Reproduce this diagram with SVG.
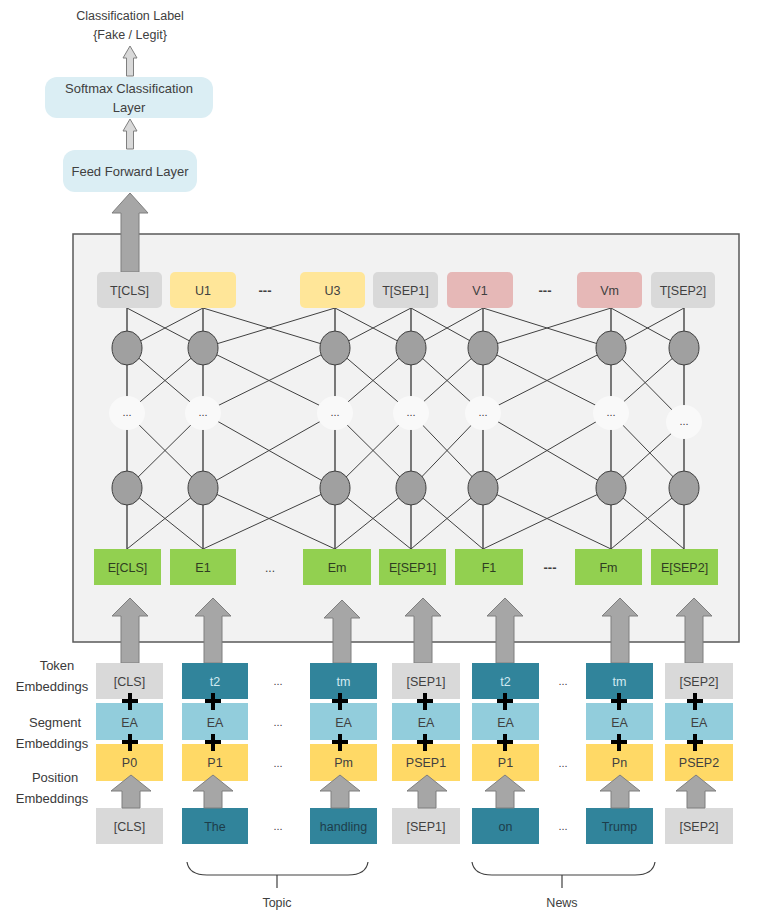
<svg xmlns="http://www.w3.org/2000/svg" width="762" height="911" viewBox="0 0 762 911">
<style>
text{font-family:"Liberation Sans",Arial,sans-serif;text-anchor:middle;fill:#404040}
.t13{font-size:13px}
.t12{font-size:12.5px}
.lbl{font-size:13px;fill:#3a3a3a}
.layer{fill:#dbeef4}
.gray{fill:#d9d9d9}
.yel{fill:#ffe699}
.pink{fill:#e6b8b7}
.green{fill:#92d050}
.teal{fill:#31849b}
.seg{fill:#92cddc}
.pos{fill:#ffd966}
.big{fill:#a6a6a6;stroke:#7f7f7f;stroke-width:1}
.small{fill:#d9d9d9;stroke:#7f7f7f;stroke-width:1}
.node{fill:#a0a0a0;stroke:#404040;stroke-width:1}
.blob{fill:#f9f9f9}
.mesh{stroke:#404040;stroke-width:1;fill:none}
.vert{stroke:#595959;stroke-width:1.6;fill:none}
.plus{stroke:#000;stroke-width:4;fill:none}
.brace{stroke:#404040;stroke-width:1.2;fill:none}
.dots{font-size:11px;fill:#404040}
.light{fill:#d2eaf1}
.dark{fill:#1d3d4a}
.egt{fill:#2f3d22}
</style>

<g id="classification-label">
<text class="t12" x="130" y="20">Classification Label</text>
<text class="t12" x="130" y="39">{Fake / Legit}</text>
</g>
<g id="softmax">
<rect class="layer" x="45" y="77" width="168" height="41" rx="12"/>
<text class="t13" x="129" y="93">Softmax Classification</text>
<text class="t13" x="129" y="112">Layer</text>
</g>
<g id="feedforward">
<rect class="layer" x="63" y="150" width="134" height="42" rx="12"/>
<text class="t13" x="130" y="176">Feed Forward Layer</text>
</g>

<g id="transformer">
<rect x="73" y="234" width="666" height="408" fill="#f2f2f2" stroke="#595959" stroke-width="1.5"/>
</g>

<g id="connectors">
<path class="small" d="M130,46 L137,58 L133.5,58 L133.5,76 L126.5,76 L126.5,58 L123,58 Z"/>
<path class="small" d="M130,119 L137,131 L133.5,131 L133.5,149 L126.5,149 L126.5,131 L123,131 Z"/>
<path class="big" d="M130,193 L148,213 L139,213 L139,272 L121,272 L121,213 L112,213 Z"/>
<path class="vert" d="M127,308V549 M203,308V549 M335,308V549 M411,308V549 M483,308V549 M611,308V549 M684,308V549"/>
<path class="mesh" d="M127,308 L203,348 M203,308 L127,348 M203,308 L335,348 M335,308 L203,348 M335,308 L411,348 M411,308 L335,348 M411,308 L483,348 M483,308 L411,348 M483,308 L611,348 M611,308 L483,348 M611,308 L684,348 M684,308 L611,348"/>
<path class="mesh" d="M127,348 L203,413 M203,348 L127,413 M203,348 L335,413 M335,348 L203,413 M335,348 L411,413 M411,348 L335,413 M411,348 L483,413 M483,348 L411,413 M483,348 L611,413 M611,348 L483,413 M611,348 L684,422 M684,348 L611,413"/>
<path class="mesh" d="M127,413 L203,488 M203,413 L127,488 M203,413 L335,488 M335,413 L203,488 M335,413 L411,488 M411,413 L335,488 M411,413 L483,488 M483,413 L411,488 M483,413 L611,488 M611,413 L483,488 M611,413 L684,488 M684,422 L611,488"/>
<path class="mesh" d="M127,488 L203,549 M203,488 L127,549 M203,488 L335,549 M335,488 L203,549 M335,488 L411,549 M411,488 L335,549 M411,488 L483,549 M483,488 L411,549 M483,488 L611,549 M611,488 L483,549 M611,488 L684,549 M684,488 L611,549"/>
<path class="big" d="M130,598 L148,616 L139,616 L139,663 L121,663 L121,616 L112,616 Z"/>
<path class="big" d="M213,598 L231,616 L222,616 L222,663 L204,663 L204,616 L195,616 Z"/>
<path class="big" d="M342,600 L360,618 L351,618 L351,663 L333,663 L333,618 L324,618 Z"/>
<path class="big" d="M423,598 L441,616 L432,616 L432,663 L414,663 L414,616 L405,616 Z"/>
<path class="big" d="M505,598 L523,616 L514,616 L514,663 L496,663 L496,616 L487,616 Z"/>
<path class="big" d="M620,598 L638,616 L629,616 L629,663 L611,663 L611,616 L602,616 Z"/>
<path class="big" d="M694,598 L712,616 L703,616 L703,663 L685,663 L685,616 L676,616 Z"/>
</g>

<g id="dots">
<ellipse class="blob" cx="127" cy="413" rx="18" ry="17"/>
<ellipse class="blob" cx="203" cy="413" rx="18" ry="17"/>
<ellipse class="blob" cx="335" cy="413" rx="18" ry="17"/>
<ellipse class="blob" cx="411" cy="413" rx="18" ry="17"/>
<ellipse class="blob" cx="483" cy="413" rx="18" ry="17"/>
<ellipse class="blob" cx="611" cy="413" rx="18" ry="17"/>
<ellipse class="blob" cx="684" cy="422" rx="18" ry="17"/>
<text class="dots" x="127" y="416">...</text>
<text class="dots" x="203" y="416">...</text>
<text class="dots" x="335" y="416">...</text>
<text class="dots" x="411" y="416">...</text>
<text class="dots" x="483" y="416">...</text>
<text class="dots" x="611" y="416">...</text>
<text class="dots" x="684" y="425">...</text>
</g>

<g id="neurons-top">
<ellipse class="node" cx="127" cy="348" rx="15" ry="17"/>
<ellipse class="node" cx="203" cy="348" rx="15" ry="17"/>
<ellipse class="node" cx="335" cy="348" rx="15" ry="17"/>
<ellipse class="node" cx="411" cy="348" rx="15" ry="17"/>
<ellipse class="node" cx="483" cy="348" rx="15" ry="17"/>
<ellipse class="node" cx="611" cy="348" rx="15" ry="17"/>
<ellipse class="node" cx="684" cy="348" rx="15" ry="17"/>
</g>
<g id="neurons-bottom">
<ellipse class="node" cx="127" cy="488" rx="15" ry="17"/>
<ellipse class="node" cx="203" cy="488" rx="15" ry="17"/>
<ellipse class="node" cx="335" cy="488" rx="15" ry="17"/>
<ellipse class="node" cx="411" cy="488" rx="15" ry="17"/>
<ellipse class="node" cx="483" cy="488" rx="15" ry="17"/>
<ellipse class="node" cx="611" cy="488" rx="15" ry="17"/>
<ellipse class="node" cx="684" cy="488" rx="15" ry="17"/>
</g>

<g id="t-cls"><rect class="gray" x="97" y="272" width="65" height="36" rx="5"/><text class="t12" x="129.5" y="295">T[CLS]</text></g>
<g id="u1"><rect class="yel" x="170" y="272" width="66" height="36" rx="5"/><text class="t12" x="203" y="295">U1</text></g>
<text x="265" y="295" font-size="13" font-weight="bold" fill="#222">---</text>
<g id="u3"><rect class="yel" x="300" y="272" width="65" height="36" rx="5"/><text class="t12" x="332.5" y="295">U3</text></g>
<g id="t-sep1"><rect class="gray" x="373" y="272" width="65" height="36" rx="5"/><text class="t12" x="405.5" y="295">T[SEP1]</text></g>
<g id="v1"><rect class="pink" x="447" y="272" width="66" height="36" rx="5"/><text class="t12" x="480" y="295">V1</text></g>
<text x="545" y="295" font-size="13" font-weight="bold" fill="#222">---</text>
<g id="vm"><rect class="pink" x="577" y="272" width="65" height="36" rx="5"/><text class="t12" x="609.5" y="295">Vm</text></g>
<g id="t-sep2"><rect class="gray" x="651" y="272" width="64" height="36" rx="5"/><text class="t12" x="683" y="295">T[SEP2]</text></g>

<g id="e-cls"><rect class="green" x="94" y="549" width="67" height="36"/><text class="t12 egt" x="127.5" y="572">E[CLS]</text></g>
<g id="e1"><rect class="green" x="170" y="549" width="66" height="36"/><text class="t12 egt" x="203" y="572">E1</text></g>
<text x="270" y="572" font-size="12">...</text>
<g id="em"><rect class="green" x="303" y="549" width="68" height="36"/><text class="t12 egt" x="337" y="572">Em</text></g>
<g id="e-sep1"><rect class="green" x="379" y="549" width="67" height="36"/><text class="t12 egt" x="412.5" y="572">E[SEP1]</text></g>
<g id="f1"><rect class="green" x="455" y="549" width="68" height="36"/><text class="t12 egt" x="489" y="572">F1</text></g>
<text x="550" y="572" font-size="13" font-weight="bold" fill="#222">---</text>
<g id="fm"><rect class="green" x="575" y="549" width="67" height="36"/><text class="t12 egt" x="608.5" y="572">Fm</text></g>
<g id="e-sep2"><rect class="green" x="651" y="549" width="67" height="36"/><text class="t12 egt" x="684.5" y="572">E[SEP2]</text></g>

<g id="row-labels">
<text class="lbl" x="57" y="670">Token</text>
<text class="lbl" x="52" y="691">Embeddings</text>
<text class="lbl" x="55" y="727">Segment</text>
<text class="lbl" x="52" y="748">Embeddings</text>
<text class="lbl" x="55" y="782">Position</text>
<text class="lbl" x="52" y="803">Embeddings</text>
</g>

<g id="col-cls">
<rect class="gray" x="96" y="663" width="67" height="36"/>
<rect class="seg" x="96" y="703" width="67" height="37"/>
<rect class="pos" x="96" y="744" width="67" height="37"/>
<rect class="gray" x="96" y="808" width="67" height="36"/>
<text class="t12" x="129.5" y="686">[CLS]</text>
<text class="t12" x="129.5" y="727">EA</text>
<text class="t12" x="129.5" y="767">P0</text>
<text class="t12" x="129.5" y="831">[CLS]</text>
</g>
<g id="col-t2a">
<rect class="teal" x="182" y="663" width="66" height="36"/>
<rect class="seg" x="182" y="703" width="66" height="37"/>
<rect class="pos" x="182" y="744" width="66" height="37"/>
<rect class="teal" x="182" y="808" width="66" height="36"/>
<text class="t12 light" x="215" y="686">t2</text>
<text class="t12" x="215" y="727">EA</text>
<text class="t12" x="215" y="767">P1</text>
<text class="t12 dark" x="215" y="831">The</text>
</g>
<g id="col-tma">
<rect class="teal" x="310" y="663" width="67" height="36"/>
<rect class="seg" x="310" y="703" width="67" height="37"/>
<rect class="pos" x="310" y="744" width="67" height="37"/>
<rect class="teal" x="310" y="808" width="67" height="36"/>
<text class="t12 light" x="343.5" y="686">tm</text>
<text class="t12" x="343.5" y="727">EA</text>
<text class="t12" x="343.5" y="767">Pm</text>
<text class="t12 dark" x="343.5" y="831">handling</text>
</g>
<g id="col-sep1">
<rect class="gray" x="392" y="663" width="68" height="36"/>
<rect class="seg" x="392" y="703" width="68" height="37"/>
<rect class="pos" x="392" y="744" width="68" height="37"/>
<rect class="gray" x="392" y="808" width="68" height="36"/>
<text class="t12" x="426" y="686">[SEP1]</text>
<text class="t12" x="426" y="727">EA</text>
<text class="t12" x="426" y="767">PSEP1</text>
<text class="t12" x="426" y="831">[SEP1]</text>
</g>
<g id="col-t2b">
<rect class="teal" x="472" y="663" width="67" height="36"/>
<rect class="seg" x="472" y="703" width="67" height="37"/>
<rect class="pos" x="472" y="744" width="67" height="37"/>
<rect class="teal" x="472" y="808" width="67" height="36"/>
<text class="t12 light" x="505.5" y="686">t2</text>
<text class="t12" x="505.5" y="727">EA</text>
<text class="t12" x="505.5" y="767">P1</text>
<text class="t12 dark" x="505.5" y="831">on</text>
</g>
<g id="col-tmb">
<rect class="teal" x="586" y="663" width="67" height="36"/>
<rect class="seg" x="586" y="703" width="67" height="37"/>
<rect class="pos" x="586" y="744" width="67" height="37"/>
<rect class="teal" x="586" y="808" width="67" height="36"/>
<text class="t12 light" x="619.5" y="686">tm</text>
<text class="t12" x="619.5" y="727">EA</text>
<text class="t12" x="619.5" y="767">Pn</text>
<text class="t12 dark" x="619.5" y="831">Trump</text>
</g>
<g id="col-sep2">
<rect class="gray" x="665" y="663" width="68" height="36"/>
<rect class="seg" x="665" y="703" width="68" height="37"/>
<rect class="pos" x="665" y="744" width="68" height="37"/>
<rect class="gray" x="665" y="808" width="68" height="36"/>
<text class="t12" x="699" y="686">[SEP2]</text>
<text class="t12" x="699" y="727">EA</text>
<text class="t12" x="699" y="767">PSEP2</text>
<text class="t12" x="699" y="831">[SEP2]</text>
</g>

<g id="ellipses" font-size="11">
<text x="278" y="685">...</text>
<text x="278" y="726">...</text>
<text x="278" y="767">...</text>
<text x="278" y="830">...</text>
<text x="563" y="685">...</text>
<text x="563" y="767">...</text>
<text x="563" y="830">...</text>
</g>

<g id="plus">
<path class="plus" d="M122,701H138M130,693V710 M205,701H221M213,693V710 M332,701H348M340,693V710 M417,701H433M425,693V710 M497,701H513M505,693V710 M611,701H627M619,693V710 M687,701H703M695,693V710"/>
<path class="plus" d="M122,742H138M130,734V751 M205,742H221M213,734V751 M332,742H348M340,734V751 M417,742H433M425,734V751 M497,742H513M505,734V751 M611,742H627M619,734V751 M687,742H703M695,734V751"/>
</g>

<g id="input-arrows">
<path class="big" d="M131,775 L151,791 L140,791 L140,808 L122,808 L122,791 L111,791 Z"/>
<path class="big" d="M213,775 L233,791 L222,791 L222,808 L204,808 L204,791 L193,791 Z"/>
<path class="big" d="M340,775 L360,791 L349,791 L349,808 L331,808 L331,791 L320,791 Z"/>
<path class="big" d="M427,775 L447,791 L436,791 L436,808 L418,808 L418,791 L407,791 Z"/>
<path class="big" d="M505,775 L525,791 L514,791 L514,808 L496,808 L496,791 L485,791 Z"/>
<path class="big" d="M620,775 L640,791 L629,791 L629,808 L611,808 L611,791 L600,791 Z"/>
<path class="big" d="M696,775 L716,791 L705,791 L705,808 L687,808 L687,791 L676,791 Z"/>
</g>

<g id="topic">
<path class="brace" d="M187,862 Q189,875 207,875 H348 Q366,875 368,862 M277,875 V888"/>
<text class="t12" x="277" y="907">Topic</text>
</g>
<g id="news">
<path class="brace" d="M472,862 Q474,875 492,875 H635 Q653,875 655,862 M562,875 V888"/>
<text class="t12" x="562" y="907">News</text>
</g>
</svg>
